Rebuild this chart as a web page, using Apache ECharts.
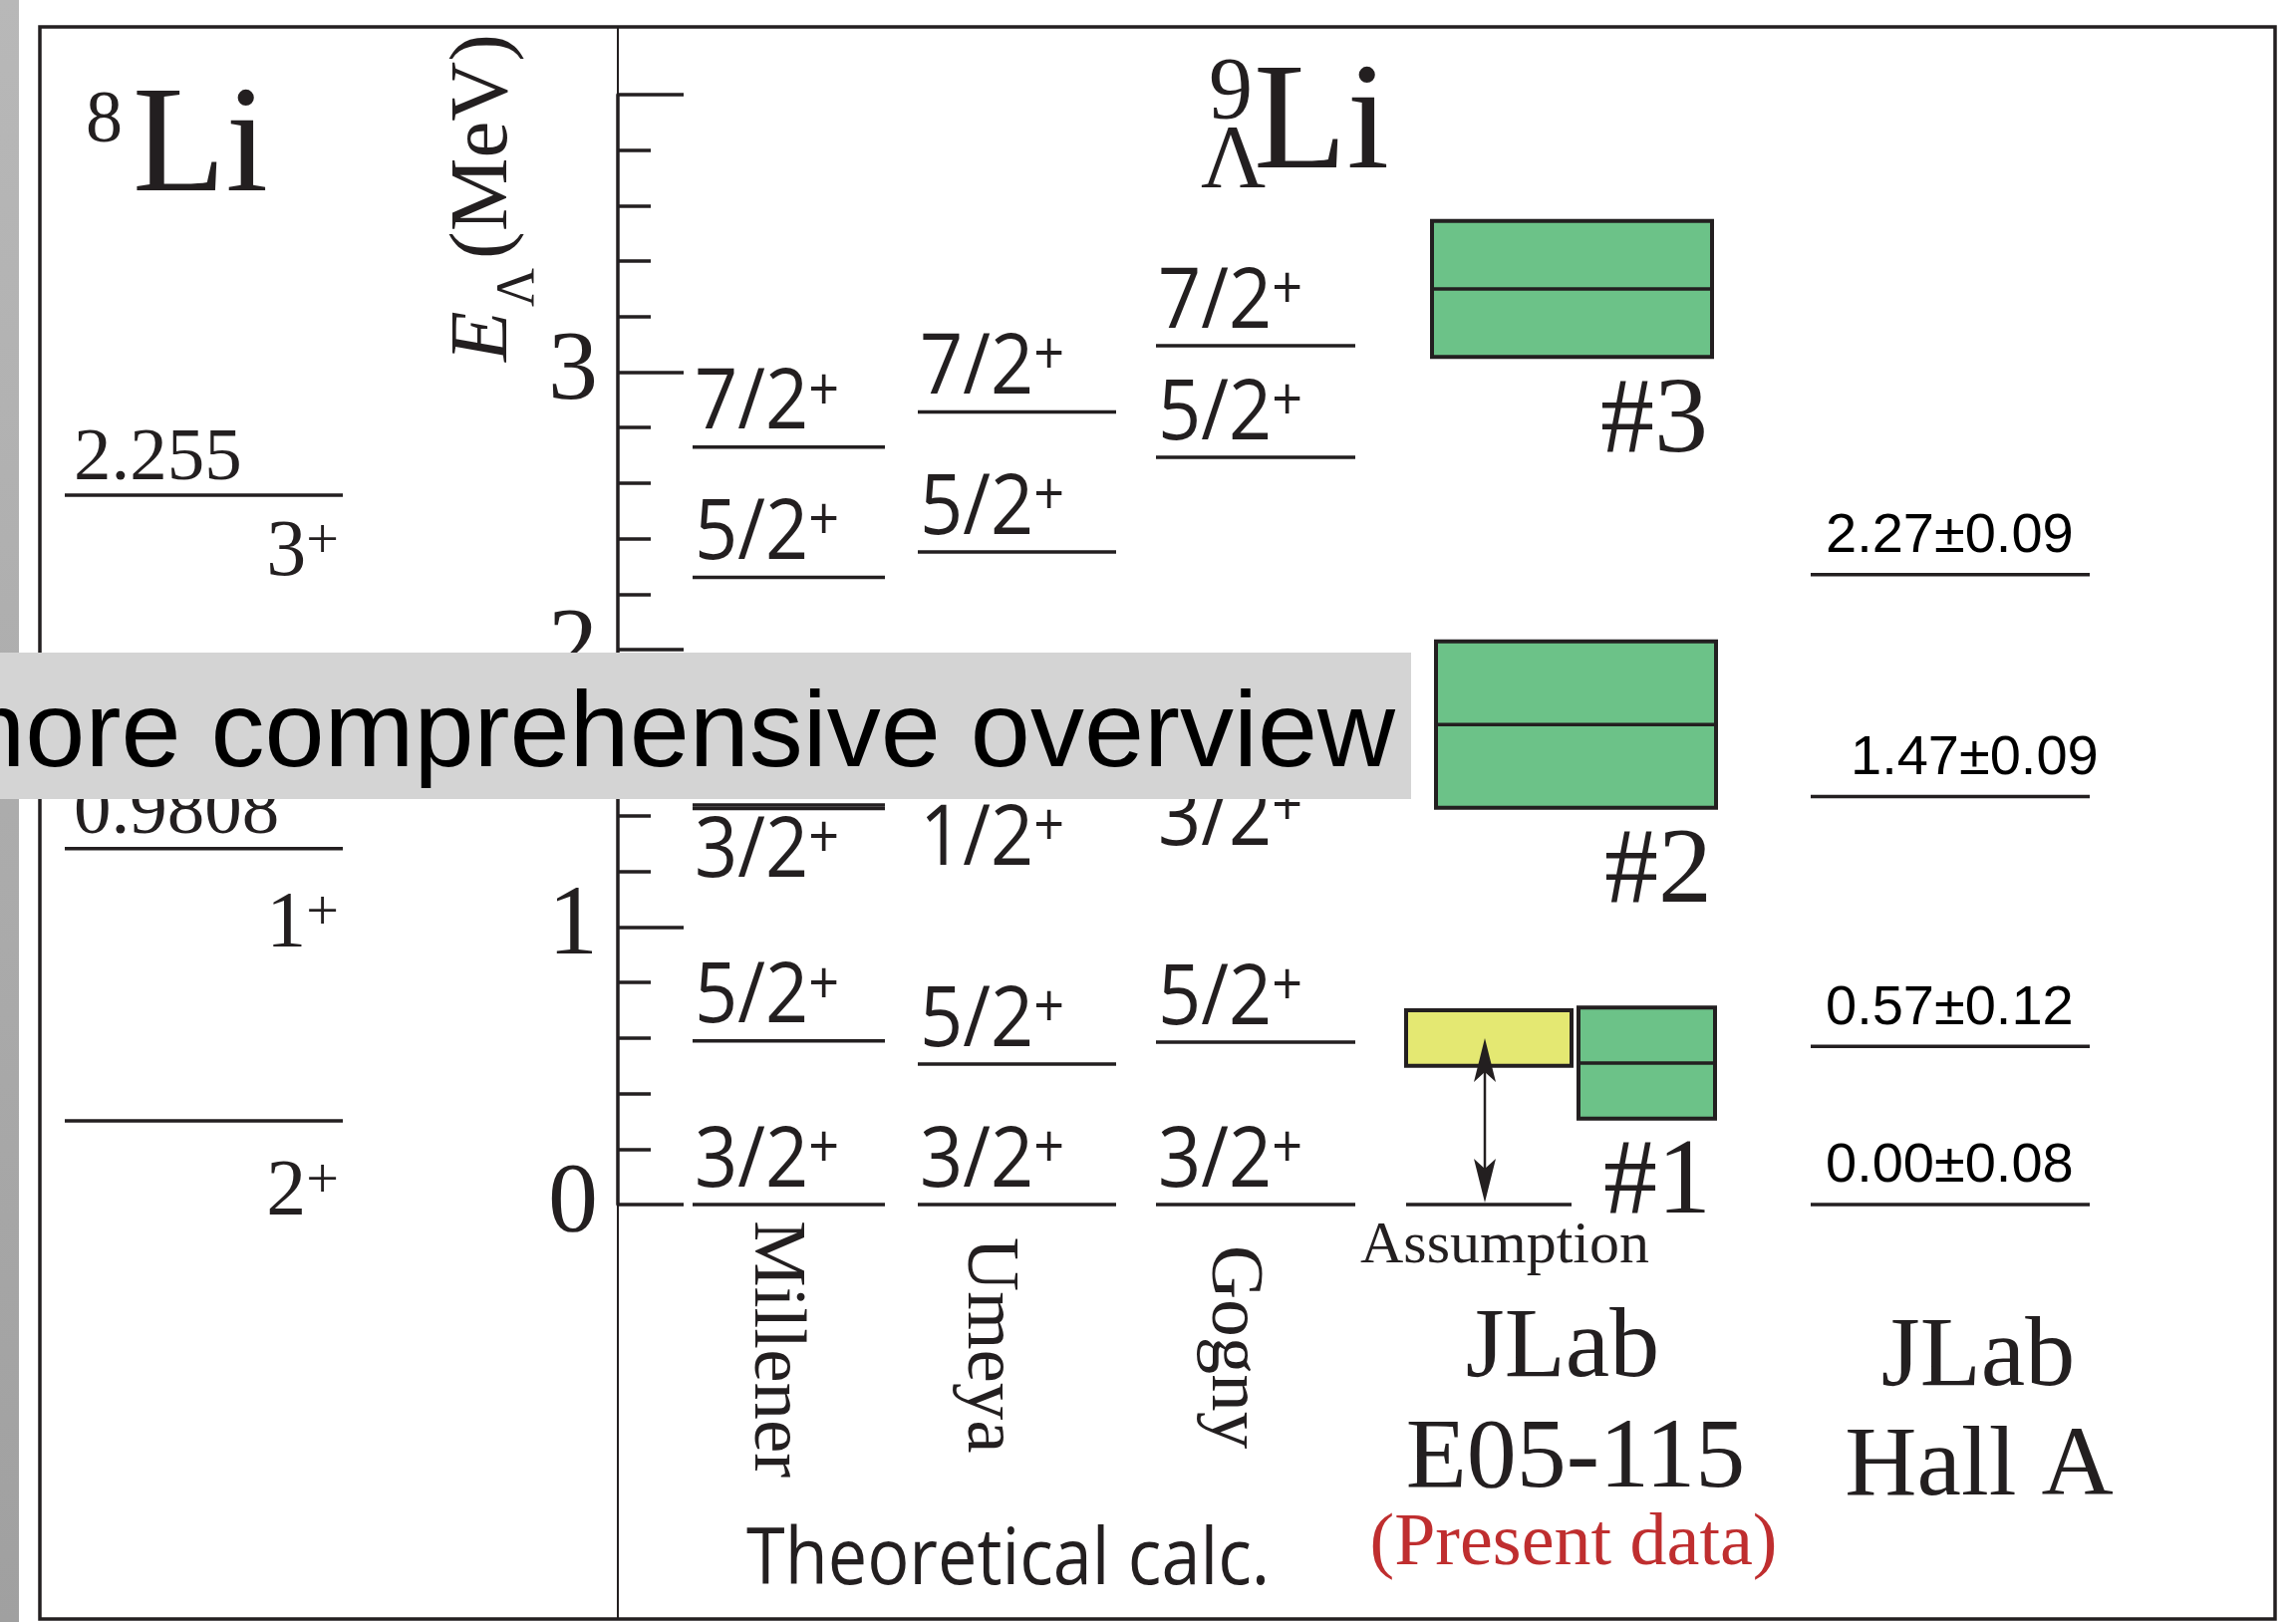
<!DOCTYPE html>
<html>
<head>
<meta charset="utf-8">
<script src="https://cdn.jsdelivr.net/npm/echarts@6/dist/echarts.min.js"></script>
<style>
  html, body { margin: 0; padding: 0; background: #ffffff; }
  #chart { width: 2304px; height: 1628px; }
</style>
</head>
<body>
<div id="chart"></div>
<script>
// ---------------- data (excitation energies in MeV) ----------------
const energyTickLabels = [0, 1, 2, 3];

// 8Li core levels
const li8Energy = [0, 0.9808, 2.255];
const li8Spin = ['2', '1', '3'];

// 9ΛLi theoretical calculations
const theoryColumns = ['Millener', 'Umeya', 'Gogny'];
const millenerEnergy = [0, 0.59, 1.427, 1.44, 2.26, 2.73];
const millenerSpin = ['3/2', '5/2', '3/2', '1/2', '5/2', '7/2'];
const umeyaEnergy = [0, 0.506, 1.47, 2.352, 2.856];
const umeyaSpin = ['3/2', '5/2', '1/2', '5/2', '7/2'];
const gognyEnergy = [0, 0.585, 1.544, 2.693, 3.095];
const gognySpin = ['3/2', '5/2', '3/2', '5/2', '7/2'];

// JLab E05-115 (present data): peak positions and widths
const presentPeak = ['#1', '#2', '#3'];
const presentEnergy = [0.51, 1.73, 3.30];
const presentHalfWidth = [0.20, 0.30, 0.245];
const assumedEnergy = 0.60;
const assumedHalfWidth = 0.10;

// JLab Hall A
const hallAEnergy = [0.00, 0.57, 1.47, 2.27];
const hallAError = [0.08, 0.12, 0.09, 0.09];

// ---------------- layout / style ----------------
const INK = '#231f20';
const GREEN = '#6cc288';
const YELLOW = '#e4e872';
const RED = '#bf2e2f';
const SERIF = '"Liberation Serif", "Times New Roman", serif';
const SANS = '"Open Sans", "Noto Sans", sans-serif';
const HELV = '"Liberation Sans", Arial, sans-serif';
// distance from a text's vertical middle to its baseline, per font, in em
const MID = { serif: 0.265, sans: 0.30, helv: 0.27 };

const theoryX = [[695, 888], [921, 1120], [1160, 1360]];
const theoryBelow = { Millener: [2], Umeya: [2], Gogny: [2] };
const peakX = [[1584, 1721], [1441, 1722], [1437, 1718]];
const assumedX = [1411, 1577];
const arrowX = 1490;
const hallAX = [1817, 2097];
const hallALabelShift = [0, 0, 25, 0];
const li8X = [65, 344];
const li8SpinDrop = [94, 98, 80];

const theoryEnergy = [millenerEnergy, umeyaEnergy, gognyEnergy];
const theorySpin = [millenerSpin, umeyaSpin, gognySpin];
const theoryData = [], theoryLabel = [], theoryLabelBelow = [];
theoryEnergy.forEach((arr, c) => arr.forEach((e, i) => {
  theoryData.push([c, e]);
  theoryLabel.push(theorySpin[c][i]);
  theoryLabelBelow.push(theoryBelow[theoryColumns[c]].includes(i));
}));

const spinRichSans = {
  n: { fontFamily: SANS, fontSize: 84, lineHeight: 84, verticalAlign: 'middle', fill: INK, color: INK },
  p: { fontFamily: SANS, fontSize: 60, lineHeight: 74, verticalAlign: 'top', fill: INK, color: INK }
};
const spinRichSerif = {
  n: { fontFamily: SERIF, fontSize: 80, lineHeight: 80, verticalAlign: 'middle', fill: INK, color: INK },
  p: { fontFamily: SERIF, fontSize: 58, lineHeight: 46, verticalAlign: 'top', fill: INK, color: INK }
};

// text placed by its baseline
function txt(x, baseline, text, size, family, kind, extra) {
  return Object.assign({
    type: 'text', x: x, y: baseline - MID[kind] * size,
    style: { text: text, fontFamily: family, fontSize: size, fill: INK, align: 'left', verticalAlign: 'middle' }
  }, extra || {});
}

const chart = echarts.init(document.getElementById('chart'), null, { renderer: 'canvas' });

const graphics = [
  // grey strip on the far left
  { type: 'rect', z: 0, shape: { x: 0, y: 0, width: 19, height: 1628 },
    style: { fill: new echarts.graphic.LinearGradient(0, 0, 0, 1, [
      { offset: 0, color: '#b8b8b8' }, { offset: 1, color: '#a0a0a0' }]) } },
  // outer frame and panel divider
  { type: 'rect', z: 0, shape: { x: 40, y: 27, width: 2243, height: 1598 },
    style: { fill: null, stroke: INK, lineWidth: 3.5 } },
  { type: 'line', z: 0, shape: { x1: 620, y1: 27, x2: 620, y2: 1625 },
    style: { stroke: INK, lineWidth: 2 } },

  // nucleus titles
  txt(86, 142, '8', 74, SERIF, 'serif'),
  txt(133, 191, 'Li', 153, SERIF, 'serif'),
  txt(1213, 118, '9', 88, SERIF, 'serif'),
  txt(1205, 188, 'Λ', 90, SERIF, 'serif'),
  txt(1258, 168, 'Li', 153, SERIF, 'serif'),

  // energy axis title, reading upward
  { type: 'group', x: 508, y: 363, rotation: Math.PI / 2, children: [
    { type: 'text', style: { text: 'E', x: 0, y: -MID.serif * 83, fontFamily: SERIF, fontStyle: 'italic', fontSize: 83, fill: INK, align: 'left', verticalAlign: 'middle' } },
    { type: 'text', style: { text: 'Λ', x: 55, y: 27 - MID.serif * 54, fontFamily: SERIF, fontSize: 54, fill: INK, align: 'left', verticalAlign: 'middle' } },
    { type: 'text', style: { text: '(MeV)', x: 103, y: -MID.serif * 83, fontFamily: SERIF, fontSize: 83, fill: INK, align: 'left', verticalAlign: 'middle' } }
  ] },

  // calculation group caption
  txt(749, 1591, 'Theoretical calc.', 78, SANS, 'sans', { scaleX: 0.9 }),

  // experiment captions
  txt(1568, 1381, 'JLab', 100, SERIF, 'serif'),
  txt(1581, 1492, 'E05-115', 100, SERIF, 'serif'),
  txt(1579, 1570, '(Present data)', 74, SERIF, 'serif'),
  txt(1985, 1390, 'JLab', 100, SERIF, 'serif'),
  txt(1986, 1500, 'Hall A', 100, SERIF, 'serif')
];
// centre the experiment captions
graphics.slice(-5).forEach((g, i) => {
  g.style.align = 'center';
  if (i === 2) g.style.fill = RED;
});

// theory column names, rotated to read downward
const colNameBase = [[758, 1225], [972, 1242], [1217, 1250]];
theoryColumns.forEach((name, c) => {
  graphics.push({ type: 'group', x: colNameBase[c][0], y: colNameBase[c][1], rotation: -Math.PI / 2, children: [
    { type: 'text', style: { text: name, x: 0, y: -MID.serif * 75, fontFamily: SERIF, fontSize: 75, fill: INK, align: 'left', verticalAlign: 'middle' } }
  ] });
});

// caption banner across the middle
graphics.push({ type: 'rect', z: 100, shape: { x: 0, y: 655, width: 1416, height: 147 }, style: { fill: '#d4d4d4' } });
graphics.push({ type: 'text', z: 101, x: 1400, y: 768 - MID.helv * 108,
  style: { text: 'more comprehensive overview', fontFamily: HELV, fontSize: 108, fill: '#000000', align: 'right', verticalAlign: 'middle' } });

const option = {
  animation: false,
  backgroundColor: '#ffffff',
  grid: [
    { left: 620, right: 21, top: 95, height: 1114 },
    { left: 40, width: 580, top: 11, height: 1114 }
  ],
  xAxis: [
    { gridIndex: 0, type: 'value', min: 620, max: 2283, show: false },
    { gridIndex: 1, type: 'value', min: 40, max: 620, show: false }
  ],
  yAxis: [
    { gridIndex: 0, type: 'value', min: 0, max: 4, interval: 1,
      axisLine: { show: true, onZero: false, lineStyle: { color: INK, width: 3.5 } },
      axisTick: { show: true, inside: true, length: 66, lineStyle: { color: INK, width: 3.5 } },
      minorTick: { show: true, splitNumber: 5, length: 33, lineStyle: { color: INK, width: 3.5 } },
      splitLine: { show: false },
      axisLabel: { show: true, margin: 20, color: INK, fontFamily: SERIF, fontSize: 100,
        padding: [0, 0, 14, 0],
        formatter: v => energyTickLabels.includes(v) ? String(v) : '' } },
    { gridIndex: 1, type: 'value', min: 0, max: 4, show: false }
  ],
  graphic: graphics,
  series: [
    // theoretical levels
    { type: 'custom', xAxisIndex: 0, yAxisIndex: 0, data: theoryData,
      renderItem(params, api) {
        const c = api.value(0), e = api.value(1);
        const p0 = api.coord([theoryX[c][0], e]);
        const p1 = api.coord([theoryX[c][1], e]);
        const below = theoryLabelBelow[params.dataIndex];
        const baseline = below ? p0[1] + 70 : p0[1] - 17;
        return { type: 'group', children: [
          { type: 'line', shape: { x1: p0[0], y1: p0[1], x2: p1[0], y2: p1[1] }, style: { stroke: INK, lineWidth: 3.5 } },
          { type: 'text', x: p0[0] + 2, y: baseline - MID.sans * 84, scaleX: 0.9,
            style: { text: '{n|' + theoryLabel[params.dataIndex] + '}{p|+}', rich: spinRichSans,
              align: 'left', verticalAlign: 'middle', fill: INK } }
        ] };
      } },
    // present data: peak boxes
    { type: 'custom', xAxisIndex: 0, yAxisIndex: 0,
      data: presentEnergy.map((e, i) => [i, e, presentHalfWidth[i]]),
      renderItem(params, api) {
        const i = params.dataIndex, e = api.value(1), hw = api.value(2);
        const tl = api.coord([peakX[i][0], e + hw]);
        const br = api.coord([peakX[i][1], e - hw]);
        const mid = api.coord([peakX[i][0], e]);
        return { type: 'group', children: [
          { type: 'rect', shape: { x: tl[0], y: tl[1], width: br[0] - tl[0], height: br[1] - tl[1] },
            style: { fill: GREEN, stroke: INK, lineWidth: 4 } },
          { type: 'line', shape: { x1: tl[0], y1: mid[1], x2: br[0], y2: mid[1] }, style: { stroke: INK, lineWidth: 3.5 } },
          { type: 'text', x: br[0] - 4, y: br[1] + 95 - MID.serif * 108,
            style: { text: presentPeak[i], fontFamily: SERIF, fontSize: 108, fill: INK, align: 'right', verticalAlign: 'middle' } }
        ] };
      } },
    // present data: assumed ground state and its reference level
    { type: 'custom', xAxisIndex: 0, yAxisIndex: 0,
      data: [[0, assumedEnergy, assumedHalfWidth]],
      renderItem(params, api) {
        const e = api.value(1), hw = api.value(2);
        const tl = api.coord([assumedX[0], e + hw]);
        const br = api.coord([assumedX[1], e - hw]);
        const g0 = api.coord([assumedX[0], 0]);
        const g1 = api.coord([assumedX[1], 0]);
        const tip = api.coord([arrowX, e]);
        const base = api.coord([arrowX, 0]);
        const ax = tip[0];
        return { type: 'group', children: [
          { type: 'line', shape: { x1: g0[0], y1: g0[1], x2: g1[0], y2: g1[1] }, style: { stroke: INK, lineWidth: 3.5 } },
          { type: 'rect', shape: { x: tl[0], y: tl[1], width: br[0] - tl[0], height: br[1] - tl[1] },
            style: { fill: YELLOW, stroke: INK, lineWidth: 4 } },
          { type: 'line', shape: { x1: ax, y1: tip[1] + 20, x2: ax, y2: base[1] - 20 }, style: { stroke: INK, lineWidth: 2.5 } },
          { type: 'polygon', shape: { points: [[ax, tip[1]], [ax - 11, tip[1] + 44], [ax, tip[1] + 34], [ax + 11, tip[1] + 44]] },
            style: { fill: INK } },
          { type: 'polygon', shape: { points: [[ax, base[1] - 2], [ax - 11, base[1] - 46], [ax, base[1] - 36], [ax + 11, base[1] - 46]] },
            style: { fill: INK } },
          { type: 'text', x: 1510, y: g0[1] + 58 - MID.serif * 60,
            style: { text: 'Assumption', fontFamily: SERIF, fontSize: 60, fill: INK, align: 'center', verticalAlign: 'middle' } }
        ] };
      } },
    // Hall A levels
    { type: 'custom', xAxisIndex: 0, yAxisIndex: 0,
      data: hallAEnergy.map((e, i) => [e, hallAError[i]]),
      renderItem(params, api) {
        const i = params.dataIndex, e = api.value(0), err = api.value(1);
        const p0 = api.coord([hallAX[0], e]);
        const p1 = api.coord([hallAX[1], e]);
        return { type: 'group', children: [
          { type: 'line', shape: { x1: p0[0], y1: p0[1], x2: p1[0], y2: p1[1] }, style: { stroke: INK, lineWidth: 3.5 } },
          { type: 'text', x: p0[0] + 15 + hallALabelShift[i], y: p0[1] - 23 - MID.helv * 56,
            style: { text: e.toFixed(2) + '±' + err.toFixed(2), fontFamily: HELV, fontSize: 56, fill: '#000000', align: 'left', verticalAlign: 'middle' } }
        ] };
      },
      encode: { x: -1, y: 0 } },
    // 8Li core levels
    { type: 'custom', xAxisIndex: 1, yAxisIndex: 1,
      data: li8Energy.map(e => [e]),
      renderItem(params, api) {
        const i = params.dataIndex, e = api.value(0);
        const p0 = api.coord([li8X[0], e]);
        const p1 = api.coord([li8X[1], e]);
        const kids = [
          { type: 'line', shape: { x1: p0[0], y1: p0[1], x2: p1[0], y2: p1[1] }, style: { stroke: INK, lineWidth: 3.5 } },
          { type: 'text', x: p1[0] - 4, y: p0[1] + li8SpinDrop[i] - MID.serif * 80,
            style: { text: '{n|' + li8Spin[i] + '}{p|+}', rich: spinRichSerif, align: 'right', verticalAlign: 'middle', fill: INK } }
        ];
        if (e > 0) {
          kids.push({ type: 'text', x: p0[0] + 9, y: p0[1] - 16 - MID.serif * 75,
            style: { text: String(e), fontFamily: SERIF, fontSize: 75, fill: INK, align: 'left', verticalAlign: 'middle' } });
        }
        return { type: 'group', children: kids };
      },
      encode: { x: -1, y: 0 } }
  ]
};

chart.setOption(option);
</script>
</body>
</html>
